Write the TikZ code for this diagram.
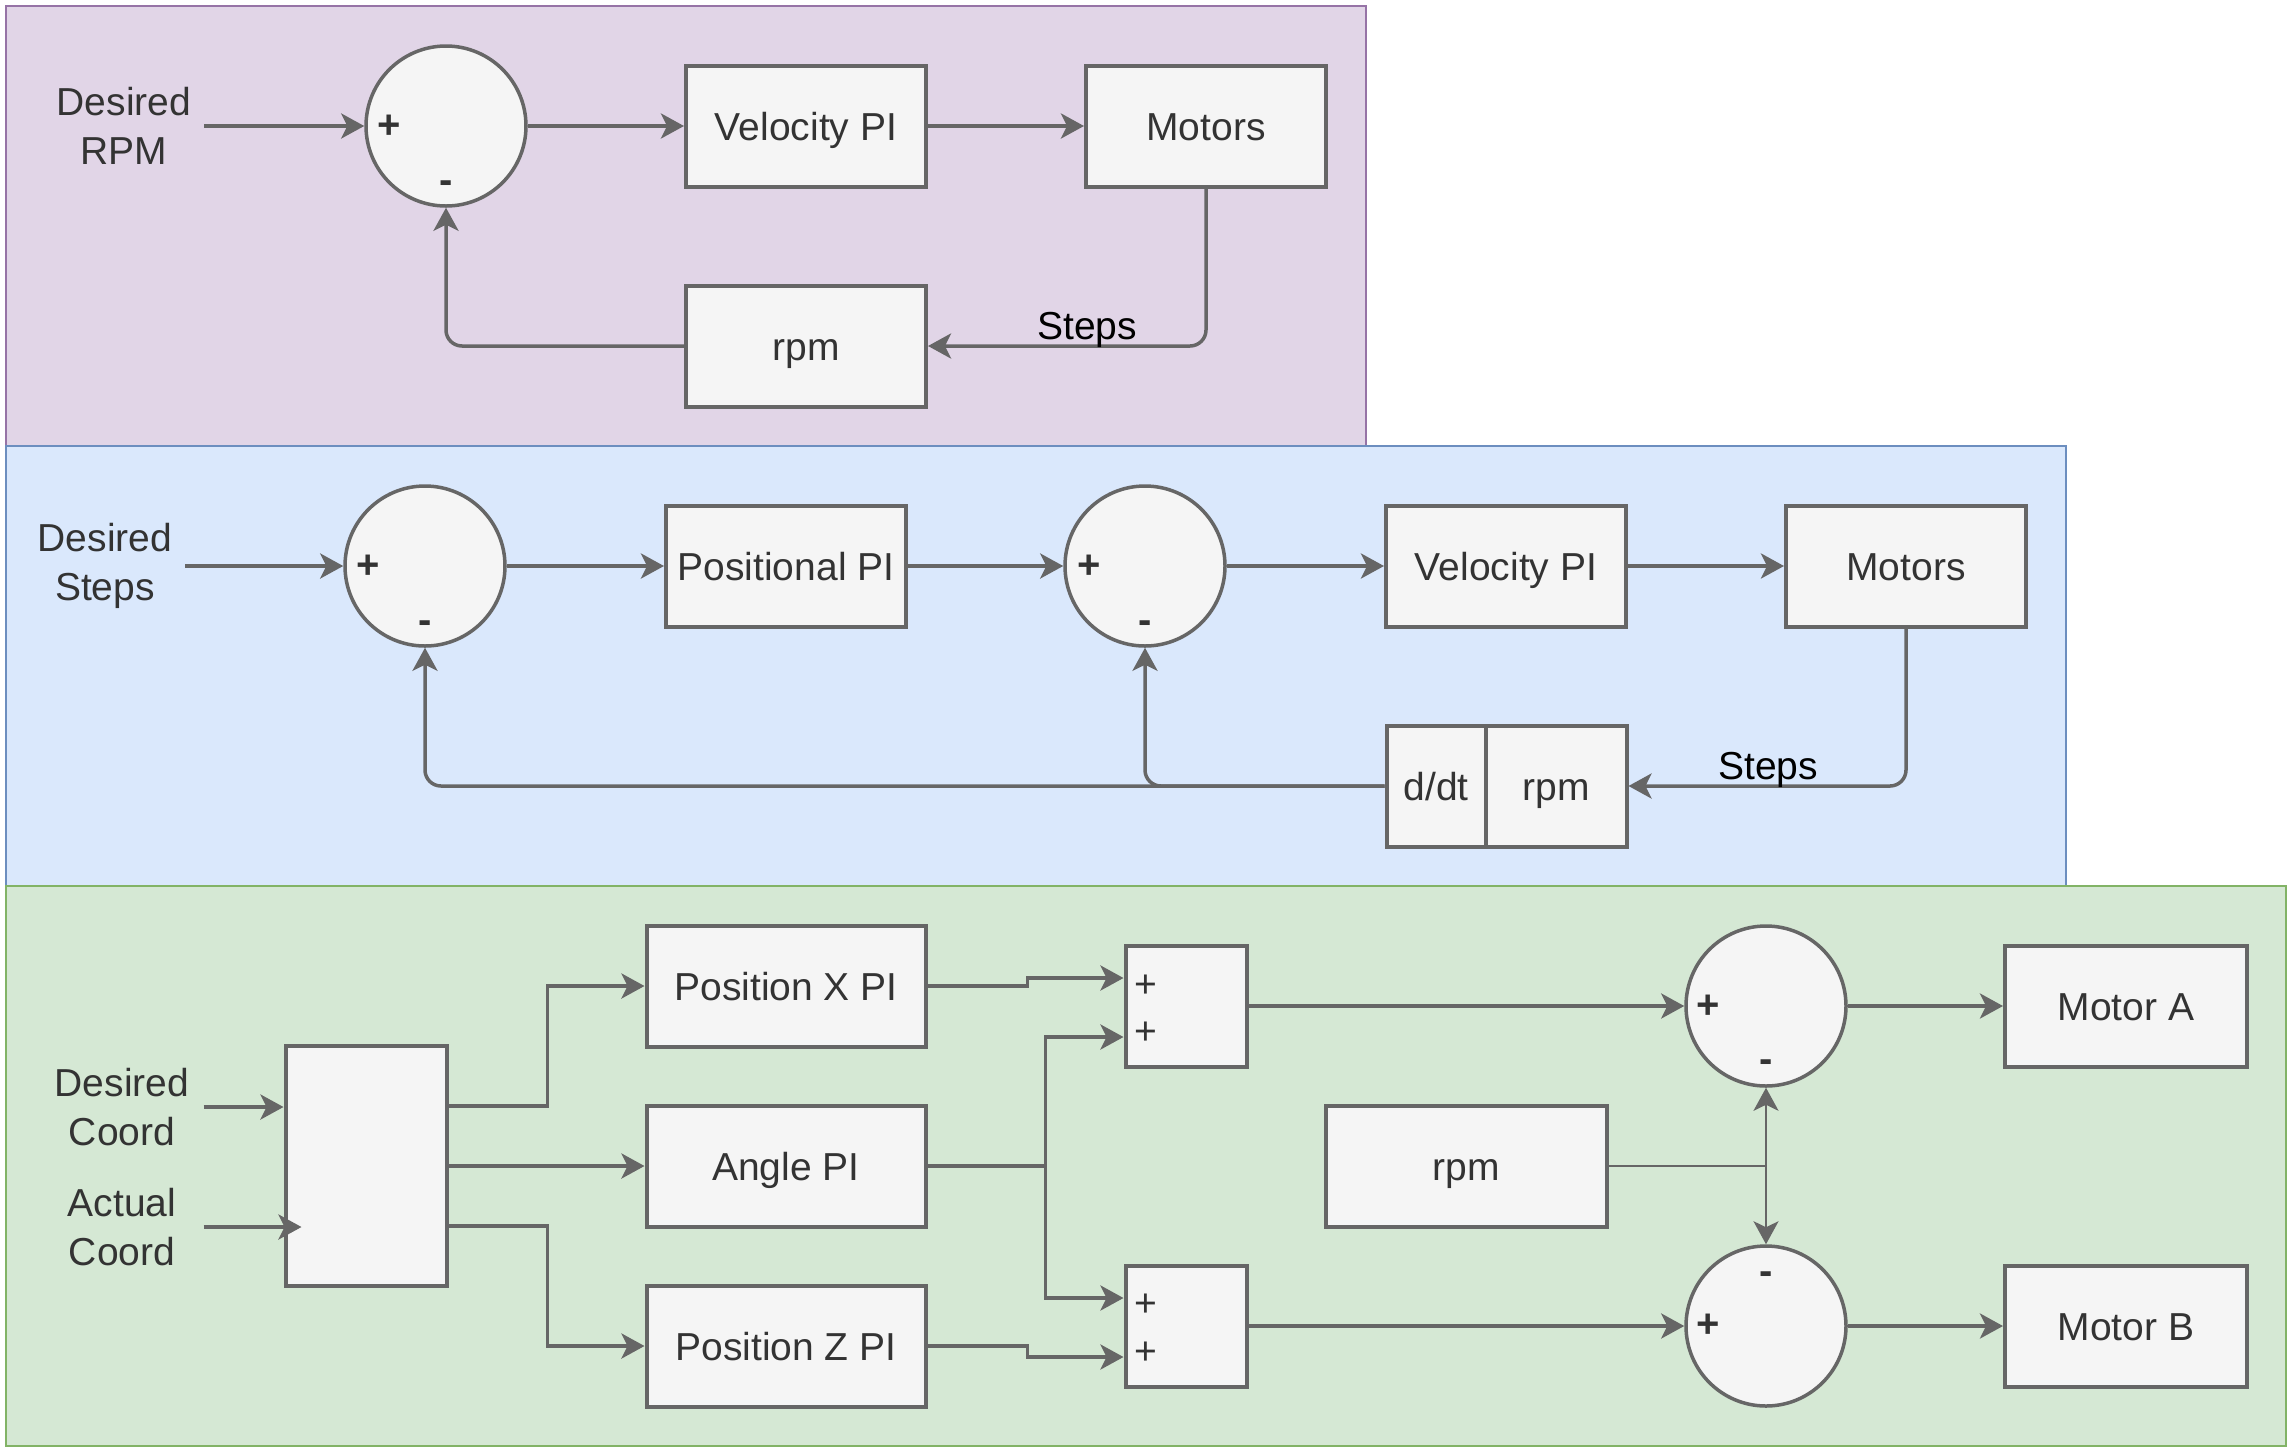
\documentclass[tikz,border=0pt]{standalone}
\usepackage{fontspec}
\setmainfont{Liberation Sans}
\usepackage{tikz}
\usetikzlibrary{calc,arrows.meta,positioning}

\definecolor{boxfill}{HTML}{F5F5F5}
\definecolor{boxline}{HTML}{666666}
\definecolor{txt}{HTML}{333333}
\definecolor{rpmfill}{HTML}{E1D5E7}
\definecolor{rpmline}{HTML}{9673A6}
\definecolor{stepfill}{HTML}{DAE8FC}
\definecolor{stepline}{HTML}{6C8EBF}
\definecolor{coordfill}{HTML}{D5E8D4}
\definecolor{coordline}{HTML}{82B366}

\begin{document}
\begin{tikzpicture}[x=1pt, y=-1pt]

\tikzset{
block/.style={draw=boxline,fill=boxfill,line width=4pt,minimum width=240pt,minimum height=121pt,inner sep=0pt,text=txt,font=\fontsize{39}{48}\selectfont,text height=28pt,text depth=0pt},
sum/.style={circle,draw=boxline,fill=boxfill,line width=3.5pt,minimum size=160pt,inner sep=0pt},
sign/.style={text=txt,inner sep=0pt,font=\fontsize{40}{48}\selectfont\bfseries},
plus/.style={text=txt,inner sep=0pt,font=\fontsize{39}{48}\selectfont},
inlabel/.style={align=center,inner sep=13pt,text=txt,font=\fontsize{39}{49}\selectfont},
steplabel/.style={text=black,font=\fontsize{39}{48}\selectfont},
flow/.style={->,>={Stealth[length=23pt,width=25pt,inset=6pt]},draw=boxline,line width=3.5pt},
feedback/.style={flow,rounded corners=16pt},
branch/.style={flow,line width=2.5pt}
}

\path[use as bounding box,fill=white] (0,0) rectangle (2292,1452);

% Panels
\draw[fill=rpmfill,draw=rpmline,line width=2pt] (6,6) rectangle (1366,446);
\draw[fill=stepfill,draw=stepline,line width=2pt] (6,446) rectangle (2066,886);
\draw[fill=coordfill,draw=coordline,line width=2pt] (6,886) rectangle (2286,1446);

% Nodes - rpm loop
\node[inlabel] (desRPM) at (124,126) {Desired\\RPM};
\node[sum] (sum1) at (446,126) {};
\node[block] (vel1) at (806,126) {Velocity PI};
\node[block] (mot1) at (1206,126) {Motors};
\node[block] (rpm1) at (806,346) {rpm};

% Nodes - step loop
\node[inlabel] (desSteps) at (105,566) {Desired\\Steps};
\node[sum] (sumA) at (425,566) {};
\node[block] (posPI) at (786,566) {Positional PI};
\node[sum] (sumB) at (1145,566) {};
\node[block] (vel2) at (1506,566) {Velocity PI};
\node[block] (mot2) at (1906,566) {Motors};
\node[block,minimum width=99pt] (ddt) at (1436,786) {d/dt};
\node[block,minimum width=141pt] (rpm2) at (1556,786) {rpm};

% Nodes - coord loop
\node[inlabel,text width=137pt] (desCoord) at (122,1107) {Desired\\Coord};
\node[inlabel,text width=137pt] (actCoord) at (122,1227) {Actual\\Coord};
\node[block,minimum width=161pt,minimum height=240pt] (split) at (366,1166) {};
\node[block,minimum width=279pt] (posX) at (786,986) {Position X PI};
\node[block,minimum width=279pt] (angle) at (786,1166) {Angle PI};
\node[block,minimum width=279pt] (posZ) at (786,1346) {Position Z PI};
\node[block,minimum width=121pt] (addTop) at (1186,1006) {};
\node[block,minimum width=121pt] (addBot) at (1186,1326) {};
\node[block,minimum width=281pt] (rpm3) at (1466,1166) {rpm};
\node[sum] (diffA) at (1766,1006) {};
\node[sum] (diffB) at (1766,1326) {};
\node[block,minimum width=242pt] (motA) at (2126,1006) {Motor A};
\node[block,minimum width=242pt] (motB) at (2126,1326) {Motor B};

\coordinate (splitA) at ($(split.east)+(0,-60)$);
\coordinate (splitB) at ($(split.east)+(0,60)$);
\coordinate (addTopA) at ($(addTop.west)+(0,-28)$);
\coordinate (addTopB) at ($(addTop.west)+(0,31)$);
\coordinate (addBotA) at ($(addBot.west)+(0,-28)$);
\coordinate (addBotB) at ($(addBot.west)+(0,31)$);

% Arrows - rpm loop
\draw[flow] (desRPM.east) -- (sum1.west);
\draw[flow] (sum1.east) -- (vel1.west);
\draw[flow] (vel1.east) -- (mot1.west);
\draw[feedback] (mot1.south) |- (rpm1.east);
\draw[feedback] (rpm1.west) -| (sum1.south);

% Arrows - step loop
\draw[flow] (desSteps.east) -- (sumA.west);
\draw[flow] (sumA.east) -- (posPI.west);
\draw[flow] (posPI.east) -- (sumB.west);
\draw[flow] (sumB.east) -- (vel2.west);
\draw[flow] (vel2.east) -- (mot2.west);
\draw[feedback] (mot2.south) |- (rpm2.east);
\draw[feedback] (ddt.west) -| (sumA.south);
\draw[feedback] (ddt.west) -| (sumB.south);

% Arrows - coord loop
\draw[flow] (desCoord.east) -- (desCoord.east -| split.west);
\draw[flow] (actCoord.east) -- ($(actCoord.east -| split.west)+(18,0)$);
\draw[flow] (splitA) -- ++(99,0) |- (posX.west);
\draw[flow] (split.east) -- (angle.west);
\draw[flow] (splitB) -- ++(99,0) |- (posZ.west);
\draw[flow] (posX.east) -- ++(100,0) |- (addTopA);
\draw[flow] (angle.east) -- ++(118,0) |- (addTopB);
\draw[flow] (angle.east) -- ++(118,0) |- (addBotA);
\draw[flow] (posZ.east) -- ++(100,0) |- (addBotB);
\draw[flow] (addTop.east) -- (diffA.west);
\draw[flow] (addBot.east) -- (diffB.west);
\draw[flow] (diffA.east) -- (motA.west);
\draw[flow] (diffB.east) -- (motB.west);
\draw[branch] (rpm3.east) -| (diffA.south);
\draw[branch] (rpm3.east) -| (diffB.north);

% Labels
\node[steplabel] (steps1) at ($(mot1.south |- rpm1.east)+(-119,-16)$) {Steps};
\node[steplabel] (steps2) at ($(mot2.south |- rpm2.east)+(-138,-16)$) {Steps};

\node[sign] (sum1p) at ($(sum1)+(-57,1)$) {+};
\node[sign] (sum1m) at ($(sum1)+(0,61)$) {-};
\node[sign] (sumAp) at ($(sumA)+(-57,1)$) {+};
\node[sign] (sumAm) at ($(sumA)+(0,61)$) {-};
\node[sign] (sumBp) at ($(sumB)+(-56,1)$) {+};
\node[sign] (sumBm) at ($(sumB)+(0,61)$) {-};
\node[sign] (diffAp) at ($(diffA)+(-58,1)$) {+};
\node[sign] (diffAm) at ($(diffA)+(0,60)$) {-};
\node[sign] (diffBp) at ($(diffB)+(-58,0)$) {+};
\node[sign] (diffBm) at ($(diffB)+(0,-48)$) {-};

\node[plus] (addTopp1) at ($(addTop.west)+(22,-20)$) {+};
\node[plus] (addTopp2) at ($(addTop.west)+(22,27)$) {+};
\node[plus] (addBotp1) at ($(addBot.west)+(22,-21)$) {+};
\node[plus] (addBotp2) at ($(addBot.west)+(22,27)$) {+};

\end{tikzpicture}
\end{document}
